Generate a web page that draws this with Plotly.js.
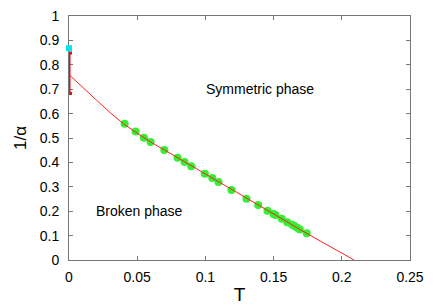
<!DOCTYPE html>
<html>
<head>
<meta charset="utf-8">
<script src="https://cdn.plot.ly/plotly-3.0.1.min.js"></script>
<style>html,body{margin:0;padding:0;background:#fff;}#chart{width:436px;height:305px;}</style>
</head>
<body>
<div id="chart"></div>
<script>
// Lattice data points (T, 1/alpha)
var dataT = [0.0408, 0.0488, 0.0549, 0.0598, 0.0699, 0.0796, 0.0847, 0.0896, 0.0996, 0.1050, 0.1096,
             0.1191, 0.1301, 0.1387, 0.1455, 0.1499, 0.1514, 0.1560, 0.1600, 0.1636, 0.1653, 0.1673, 0.1692, 0.1743];
var dataInvAlpha = [0.558, 0.527, 0.501, 0.484, 0.451, 0.419, 0.402, 0.384, 0.353, 0.336, 0.320,
                    0.287, 0.251, 0.225, 0.202, 0.189, 0.184, 0.169, 0.155, 0.144, 0.139, 0.132, 0.125, 0.110];
// Fit curve
var fitT = [0, 0.005, 0.01, 0.02, 0.03, 0.04, 0.05, 0.06, 0.07, 0.08, 0.09, 0.10, 0.11, 0.12, 0.13, 0.14, 0.15, 0.16, 0.17, 0.18, 0.19, 0.20, 0.209];
var fitInvAlpha = [0.760, 0.733, 0.707, 0.656, 0.605, 0.558, 0.520, 0.483, 0.451, 0.418, 0.384, 0.352, 0.319, 0.285, 0.252, 0.221, 0.188, 0.155, 0.123, 0.091, 0.059, 0.028, 0.0];
// T = 0 estimates
var zeroT = [0];
var zeroInvAlpha = [0.765];
var zeroErr = [0.083];
var cyanT = [0];
var cyanInvAlpha = [0.868];
var xTicks = [0, 0.05, 0.1, 0.15, 0.2, 0.25];
var yTicks = [0, 0.1, 0.2, 0.3, 0.4, 0.5, 0.6, 0.7, 0.8, 0.9, 1];

var traces = [
  {x: dataT, y: dataInvAlpha, mode: 'markers', type: 'scatter',
   marker: {color: '#33f033', size: 8, line: {width: 0}}, cliponaxis: false, hoverinfo: 'x+y'},
  {x: fitT, y: fitInvAlpha, mode: 'lines', type: 'scatter',
   line: {color: '#ff2020', width: 1}, hoverinfo: 'x+y'},
  {x: zeroT, y: zeroInvAlpha, mode: 'markers', type: 'scatter',
   marker: {color: 'rgba(0,0,0,0)', size: 1},
   error_y: {type: 'data', array: zeroErr, visible: true, color: '#e81010', thickness: 3, width: 3},
   cliponaxis: false},
  {x: cyanT, y: cyanInvAlpha, mode: 'markers', type: 'scatter',
   marker: {color: '#00e5ee', size: 6, symbol: 'square'}, cliponaxis: false}
];

var axisFont = {family: 'Liberation Sans, Arial, sans-serif', size: 14, color: '#000'};
var layout = {
  width: 436, height: 305,
  margin: {l: 69, r: 26, t: 16, b: 45},
  showlegend: false,
  paper_bgcolor: '#fff', plot_bgcolor: '#fff',
  font: axisFont,
  xaxis: {
    range: [0, 0.25], tickvals: xTicks, ticktext: xTicks.map(String),
    ticks: 'inside', ticklen: 4, tickcolor: '#777', tickwidth: 1,
    showline: true, linecolor: '#777', linewidth: 1, mirror: 'ticks',
    showgrid: false, zeroline: false, tickfont: axisFont, ticklabelstandoff: 4,
    layer: 'below traces',
    title: {text: 'T', font: {family: 'Liberation Sans, Arial, sans-serif', size: 19, color: '#000'}, standoff: 5},
    automargin: false
  },
  yaxis: {
    range: [0, 1], tickvals: yTicks, ticktext: yTicks.map(String),
    ticks: 'inside', ticklen: 4, tickcolor: '#777', tickwidth: 1,
    showline: true, linecolor: '#777', linewidth: 1, mirror: 'ticks',
    showgrid: false, zeroline: false, tickfont: axisFont, ticklabelstandoff: 6,
    layer: 'below traces',
    title: {text: '1/α', font: {family: 'Liberation Sans, Arial, sans-serif', size: 17, color: '#000'}, standoff: 8},
    automargin: false
  },
  annotations: [
    {x: 0.1397, y: 0.70, xref: 'x', yref: 'y', text: 'Symmetric phase', showarrow: false,
     font: {family: 'Liberation Sans, Arial, sans-serif', size: 14, color: '#000'}},
    {x: 0.0517, y: 0.20, xref: 'x', yref: 'y', text: 'Broken phase', showarrow: false,
     font: {family: 'Liberation Sans, Arial, sans-serif', size: 14, color: '#000'}}
  ]
};
Plotly.newPlot('chart', traces, layout, {displayModeBar: false, staticPlot: true});
</script>
</body>
</html>
